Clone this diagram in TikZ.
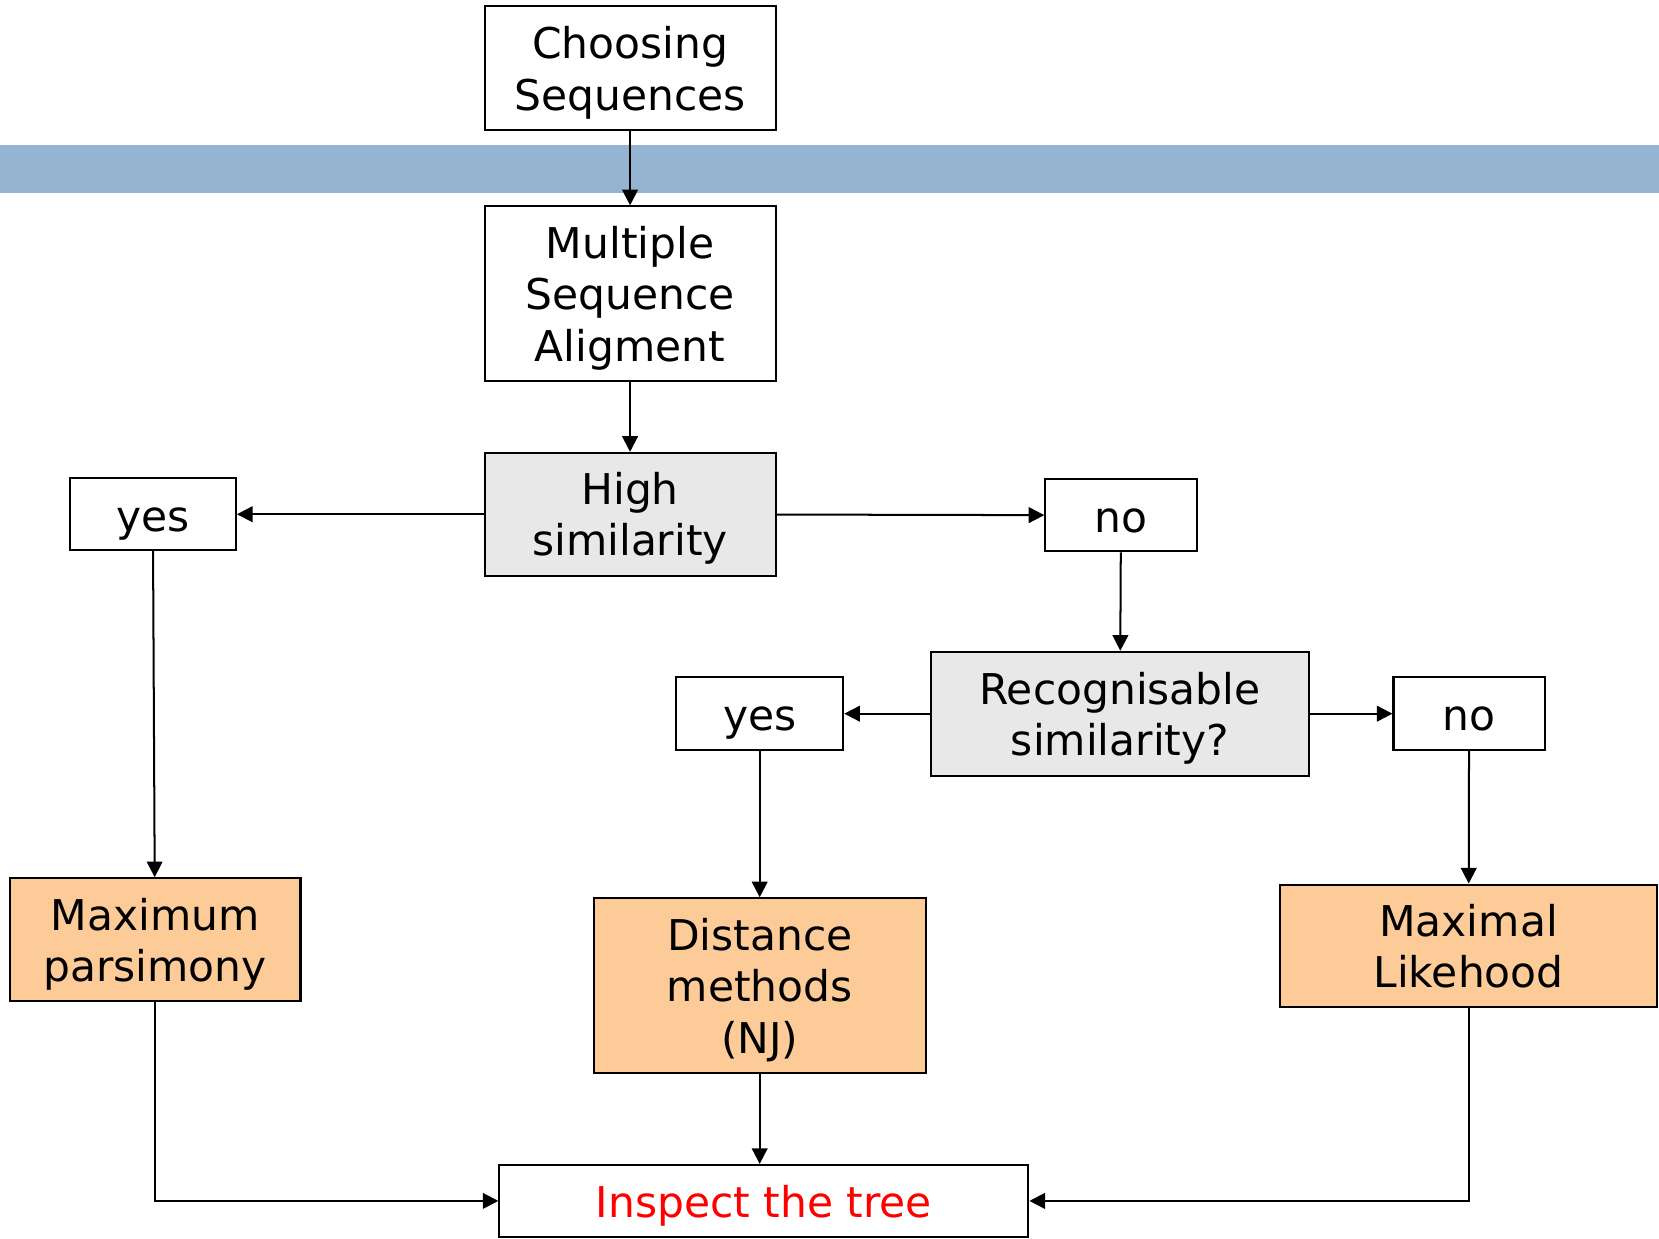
\documentclass[tikz,border=0pt]{standalone}
\usepackage{fontspec}
\setmainfont{DejaVu Sans}
\usetikzlibrary{arrows.meta}

\definecolor{bandblue}{RGB}{148,180,210}
\definecolor{methodorange}{RGB}{253,203,151}
\definecolor{askgray}{RGB}{232,232,232}

% line box as tall as the font's ascent and descent
\newcommand{\linestrut}{\rule[-4pt]{0pt}{23.1pt}}

\begin{document}
\begin{tikzpicture}[
        box/.style={draw, line width=0.9pt, align=center, inner sep=0pt,
          font=\fontsize{19}{23}\selectfont,
          execute at begin node=\linestrut, execute at end node=\linestrut},
        lines/.style={text depth=0pt},
        ask/.style={box, lines, fill=askgray},
        method/.style={box, lines, fill=methodorange},
        arr/.style={-{Triangle[width=7pt,length=7pt]}, line width=0.9pt}]
        \useasboundingbox (0,0) rectangle (26.133,-19.517);

        % band across the page
        \fill[bandblue] (0,-2.283) rectangle (26.133,-3.033);

        \node[box, lines, minimum width=4.583cm, minimum height=1.95cm] (choose)
        at (9.925,-1.075) {Choosing\\Sequences};
        \node[box, lines, minimum width=4.583cm, minimum height=2.75cm] (msa)
        at (9.925,-4.625) {Multiple\\Sequence\\Aligment};
        \node[ask, minimum width=4.583cm, minimum height=1.933cm] (high)
        at (9.925,-8.1) {High\\similarity};

        \node[box, minimum width=2.617cm, minimum height=1.133cm] (yesA)
        at (2.408,-8.1) {yes};
        \node[box, minimum width=2.383cm, minimum height=1.133cm] (noA)
        at (17.658,-8.117) {no};

        \node[ask, minimum width=5.95cm, minimum height=1.95cm] (recog)
        at (17.642,-11.242) {Recognisable\\similarity?};
        \node[box, minimum width=2.633cm, minimum height=1.15cm] (yesB)
        at (11.967,-11.242) {yes};
        \node[box, minimum width=2.383cm, minimum height=1.15cm] (noB)
        at (23.142,-11.242) {no};

        \node[method, minimum width=4.583cm, minimum height=1.933cm] (mp)
        at (2.442,-14.8) {Maximum\\parsimony};
        \node[method, minimum width=5.233cm, minimum height=2.75cm] (dist)
        at (11.967,-15.525) {Distance\\methods\\(NJ)};
        \node[method, minimum width=5.933cm, minimum height=1.933cm] (ml)
        at (23.133,-14.9) {Maximal\\Likehood};

        \node[box, minimum width=8.333cm, minimum height=1.133cm,
          text=red] (tree) at (12.033,-18.917) {Inspect the tree};

        \draw[arr] (choose) -- (msa);
        \draw[arr] (msa) -- (high);
        \draw[arr] (high) -- (yesA);
        \draw[arr] (high) -- (noA);
        \draw[arr] (noA) -- (recog);
        \draw[arr] (recog) -- (yesB);
        \draw[arr] (recog) -- (noB);

        \draw[arr] (yesA) -- (mp);
        \draw[arr] (yesB) -- (dist);
        \draw[arr] (noB) -- (ml);

        \draw[arr] (dist.south) -- (dist.south |- tree.north);
        \draw[arr] (mp.south) |- (tree.west);
        \draw[arr] (ml.south) |- (tree.east);

      \end{tikzpicture}
\end{document}
